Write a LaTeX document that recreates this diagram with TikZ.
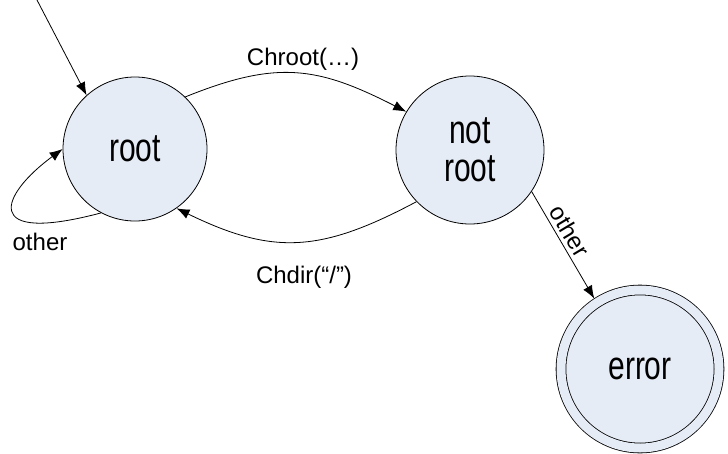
\documentclass[tikz,border=0pt]{standalone}
\usepackage{fontspec}
\setmainfont{Liberation Sans}
\newfontfamily\statefont[FakeStretch=0.75]{Liberation Sans}
\usepackage{xcolor}
\usepackage{tikz}
\usetikzlibrary{arrows.meta}
\definecolor{statefill}{RGB}{230,236,246}
\tikzstyle{mystate} = [draw=black, fill=statefill, circle, line width=0.8pt,
inner sep=0pt, align=center, font=\statefont\fontsize{40}{38}\selectfont]
\tikzstyle{myaccept} = [mystate, double=statefill, double distance=9pt, outer sep=5pt]
\tikzstyle{trans} = [line width=0.8pt, -{Latex[length=13pt,width=10pt]}]
\tikzstyle{translabel} = [font=\fontsize{24}{28}\selectfont, inner sep=0pt]

\begin{document}
\begin{tikzpicture}[x=1pt,y=1pt]
        \useasboundingbox (0,0) rectangle (728,-453);
        % states
        \node[mystate, minimum size=144pt] (root) at (135,-149) {root};
        \node[mystate, minimum size=148pt] (notroot) at (470,-150) {not\\root};
        \node[myaccept, minimum size=158pt] (error) at (640,-369) {error};
        \coordinate (init) at (37,0);
        % transitions
        \draw[trans] (init) -- (root.132);
        \draw[trans] (root.242) .. controls (-20,-245) and (0,-195) .. (root.180);
        \draw[trans] (root.46) to[out=22, in=153, looseness=1.15] (notroot.149);
        \draw[trans] (notroot.224) to[out=208, in=-26, looseness=1.15] (root.305);
        \draw[trans] (notroot.-34) -- (error.123);
        % labels
        \node[translabel, anchor=base] (lblloop) at (40,-250) {other};
        \node[translabel, anchor=base] (lblchroot) at (303,-65) {Chroot(…)};
        \node[translabel, anchor=base] (lblchdir) at (304,-283) {Chdir(“/”)};
        \node[translabel, rotate=-59] (lblerror) at (570,-231) {other};
    \end{tikzpicture}
\end{document}
